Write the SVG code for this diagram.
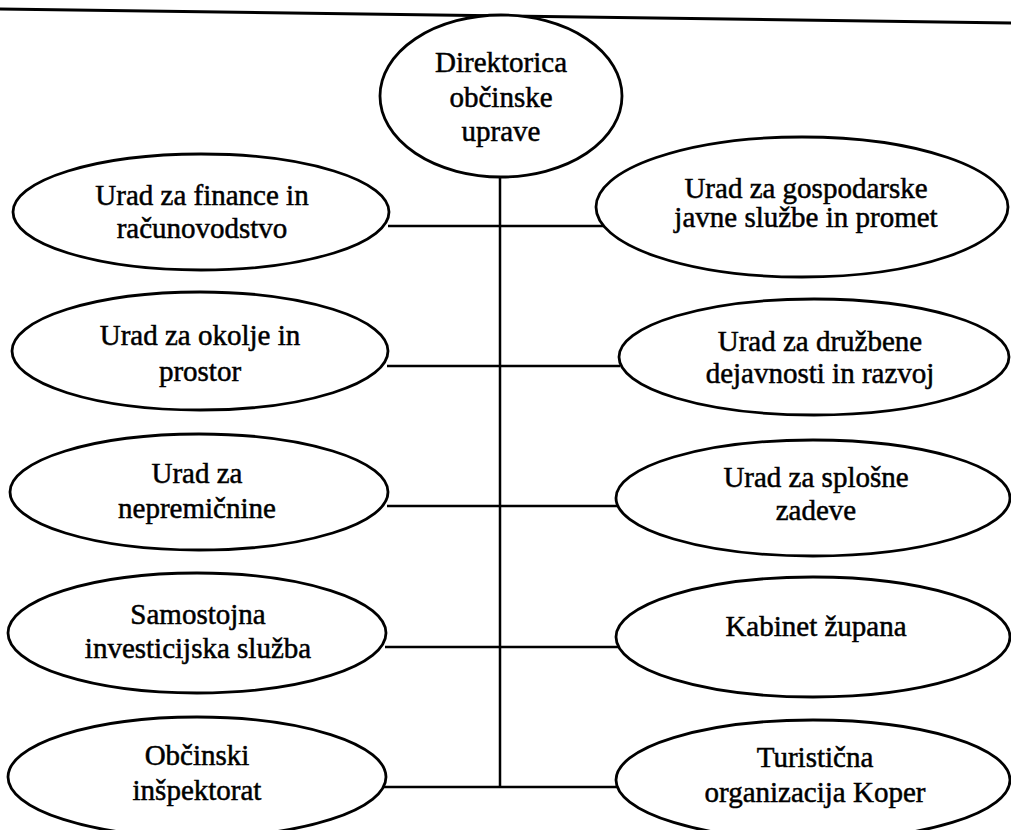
<svg xmlns="http://www.w3.org/2000/svg" width="1011" height="830" viewBox="0 0 1011 830">
<style>
.n ellipse{fill:#fff;stroke:#000;stroke-width:2.8}
.n text{font-family:"Liberation Serif","Times New Roman",serif;font-size:29px;fill:#000;stroke:#000;stroke-width:0.5;text-anchor:middle}
.c line{stroke:#000;stroke-width:2.5}
</style>
<rect width="1011" height="830" fill="#fff"/>
<g id="topline"><line x1="0" y1="9" x2="1011" y2="23" stroke="#000" stroke-width="3"/></g>
<g class="c" id="connectors">
<line x1="500" y1="176" x2="500" y2="787"/>
<line x1="388" y1="226" x2="614" y2="226"/>
<line x1="387" y1="366" x2="620" y2="366"/>
<line x1="387" y1="506" x2="618" y2="506"/>
<line x1="385" y1="647" x2="618" y2="647"/>
<line x1="384" y1="787" x2="618" y2="787"/>
</g>
<g class="n" id="n0"><ellipse cx="501" cy="96" rx="121" ry="81"/>
<text x="501" y="72">Direktorica</text><text x="501" y="107">občinske</text><text x="501" y="141">uprave</text></g>
<g class="n" id="l1"><ellipse cx="201" cy="212" rx="188" ry="58"/>
<text x="202" y="205">Urad za finance in</text><text x="202" y="238">računovodstvo</text></g>
<g class="n" id="l2"><ellipse cx="200" cy="351" rx="188" ry="59"/>
<text x="200" y="345">Urad za okolje in</text><text x="200" y="381">prostor</text></g>
<g class="n" id="l3"><ellipse cx="199" cy="492" rx="189" ry="58"/>
<text x="197" y="483">Urad za</text><text x="197" y="518">nepremičnine</text></g>
<g class="n" id="l4"><ellipse cx="197" cy="633" rx="189" ry="60"/>
<text x="198" y="624">Samostojna</text><text x="198" y="658">investicijska služba</text></g>
<g class="n" id="l5"><ellipse cx="197" cy="777" rx="189" ry="60"/>
<text x="197" y="765">Občinski</text><text x="197" y="800">inšpektorat</text></g>
<g class="n" id="r1"><ellipse cx="802" cy="207" rx="206" ry="70"/>
<text x="806" y="198">Urad za gospodarske</text><text x="806" y="227">javne službe in promet</text></g>
<g class="n" id="r2"><ellipse cx="814" cy="357" rx="195" ry="58"/>
<text x="820" y="351">Urad za družbene</text><text x="820" y="383">dejavnosti in razvoj</text></g>
<g class="n" id="r3"><ellipse cx="813" cy="498" rx="197" ry="58"/>
<text x="816" y="487">Urad za splošne</text><text x="816" y="520">zadeve</text></g>
<g class="n" id="r4"><ellipse cx="813" cy="637" rx="197" ry="60"/>
<text x="816" y="636">Kabinet župana</text></g>
<g class="n" id="r5"><ellipse cx="813" cy="780" rx="197" ry="60"/>
<text x="815" y="767">Turistična</text><text x="815" y="802">organizacija Koper</text></g>
</svg>
